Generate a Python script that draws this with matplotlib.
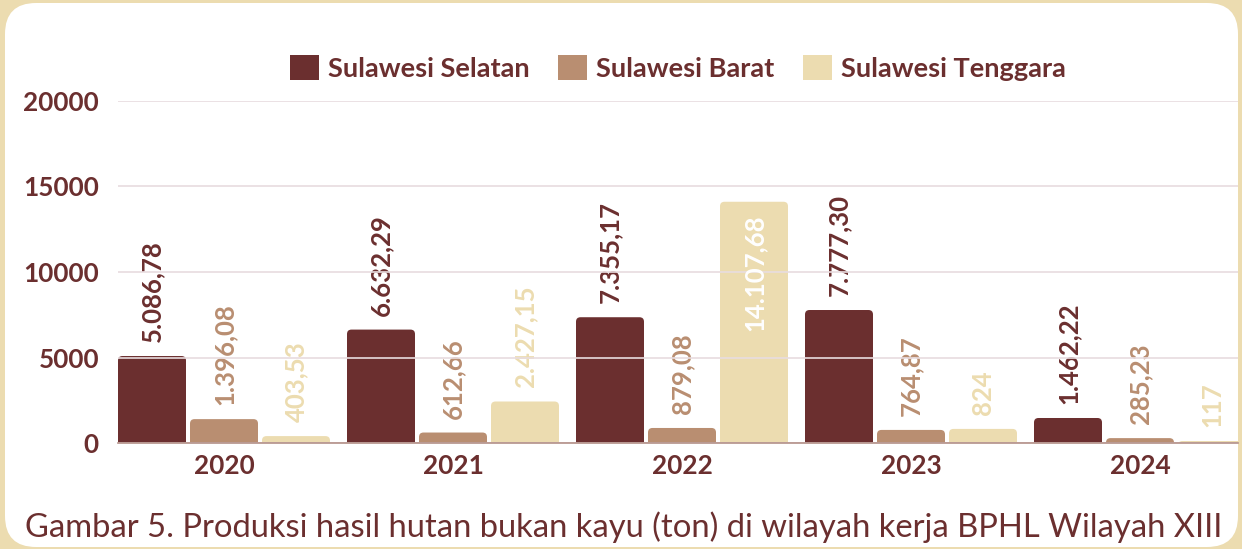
import matplotlib
matplotlib.use("Agg")
import matplotlib.pyplot as plt
from matplotlib.patches import FancyBboxPatch, Patch
import numpy as np

years = ["2020", "2021", "2022", "2023", "2024"]
series = ["Sulawesi Selatan", "Sulawesi Barat", "Sulawesi Tenggara"]
selatan = [5086.78, 6632.29, 7355.17, 7777.30, 1462.22]
barat = [1396.08, 612.66, 879.08, 764.87, 285.23]
tenggara = [403.53, 2427.15, 14107.68, 824, 117]
labels_selatan = ["5.086,78", "6.632,29", "7.355,17", "7.777,30", "1.462,22"]
labels_barat = ["1.396,08", "612,66", "879,08", "764,87", "285,23"]
labels_tenggara = ["403,53", "2.427,15", "14.107,68", "824", "117"]
yticks = [0, 5000, 10000, 15000, 20000]
caption = "Gambar 5. Produksi hasil hutan bukan kayu (ton) di wilayah kerja BPHL Wilayah XIII"

colors = ["#6b2f2f", "#b98e71", "#ecdcb0"]
text_dark = "#6b2f2f"
FONT = "Lato"

W, H = 1242, 549
fig = plt.figure(figsize=(W / 100, H / 100), dpi=100)
fig.patch.set_facecolor("#ecdcb0")

# white rounded panel
panel = FancyBboxPatch((5 / W, (H - 547) / H), (1238 - 5) / W, (547 - 3) / H,
                       boxstyle="round,pad=0,rounding_size=0.025",
                       transform=fig.transFigure, facecolor="white", edgecolor="none",
                       mutation_aspect=W / H, zorder=-10)
fig.patches.append(panel)

ax_l, ax_r, ax_b, ax_t = 118, 1238, 443, 101
ax = fig.add_axes([ax_l / W, (H - ax_b) / H, (ax_r - ax_l) / W, (ax_b - ax_t) / H])
ax.set_facecolor("none")
ax.set_zorder(1)

step = 229.0
x0 = (ax_l - 224) / step
x1 = (ax_r - 224) / step
ax.set_xlim(x0, x1)
ax.set_ylim(0, 20000)

bw = 68 / step
off = 72 / step
xs = np.arange(len(years))

px_per_x = step
px_per_y = (ax_b - ax_t) / 20000
r_px = 4.5
r_x = r_px / px_per_x
r_y = r_px / px_per_y

all_vals = [selatan, barat, tenggara]
all_labels = [labels_selatan, labels_barat, labels_tenggara]
for si, (vals, labs) in enumerate(zip(all_vals, all_labels)):
    bars = ax.bar(xs + (si - 1) * off, vals, width=bw, color="none", edgecolor="none")
    for b, v, lab in zip(bars, vals, labs):
        x = b.get_x()
        p = FancyBboxPatch((x, -r_y), bw, v + r_y,
                           boxstyle=f"round,pad=0,rounding_size={r_x}",
                           mutation_aspect=r_y / r_x,
                           facecolor=colors[si], edgecolor="none", zorder=2)
        ax.add_patch(p)
        cx = x + bw / 2
        if v > 12000:
            ax.text(cx, v - 13 / px_per_y, lab, rotation=90, ha="center", va="top",
                    color="white", fontsize=18.5, fontweight="bold", family=FONT, zorder=4)
        else:
            ax.text(cx, v + 14 / px_per_y, lab, rotation=90, ha="center", va="bottom",
                    color=colors[si], fontsize=18.5, fontweight="bold", family=FONT, zorder=1)

ax.set_yticks(yticks)
ax.set_yticklabels([str(t) for t in yticks])
ax.set_xticks(xs)
ax.set_xticklabels(years)
ax.grid(axis="y", color="#e8dcdf", linewidth=1.2, zorder=3)
ax.set_axisbelow(False)
for s in ["top", "right", "left"]:
    ax.spines[s].set_visible(False)
ax.spines["bottom"].set_color("#b39088")
ax.spines["bottom"].set_linewidth(1.2)
ax.spines["bottom"].set_zorder(5)
ax.tick_params(axis="both", length=0, colors=text_dark)
ax.tick_params(axis="y", pad=13.7)
ax.tick_params(axis="x", pad=8)
for t in ax.get_yticklabels() + ax.get_xticklabels():
    t.set_fontfamily(FONT)
    t.set_fontweight("bold")
    t.set_fontsize(18.8)
    t.set_color(text_dark)

handles = [Patch(facecolor=c, edgecolor="none") for c in colors]
leg = ax.legend(handles, series, loc="center", bbox_to_anchor=(0.5, (ax_b - 68) / (ax_b - ax_t)),
                ncol=3, frameon=False, handlelength=1.05, handleheight=1.05,
                handletextpad=0.34, columnspacing=1.05,
                prop={"family": FONT, "weight": "bold", "size": 19.6})
for t in leg.get_texts():
    t.set_color(text_dark)

# caption, fitted to target width
cap = fig.text(25 / W, (H - 537) / H, caption, ha="left", va="baseline",
               color=text_dark, family=FONT, fontsize=22)
fig.canvas.draw()
bb = cap.get_window_extent()
cap.set_fontsize(22 * (1218 - 25) / bb.width)

fig.savefig("out.png", dpi=100, facecolor=fig.get_facecolor())
